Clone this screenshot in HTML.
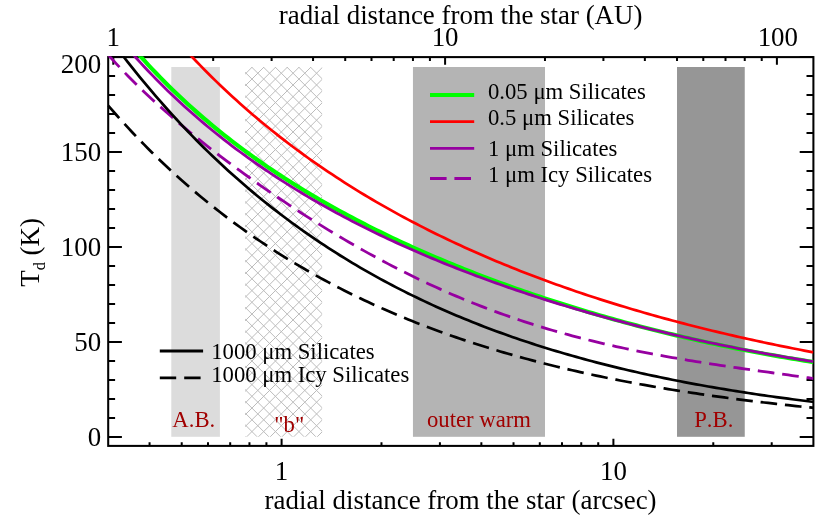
<!DOCTYPE html>
<html><head><meta charset="utf-8"><title>Dust temperature vs radial distance</title>
<style>html,body{margin:0;padding:0;background:#fff}body{width:830px;height:519px;overflow:hidden}svg{display:block;will-change:transform}text{font-family:"Liberation Serif",serif;fill:#000;font-kerning:none}</style>
</head><body>
<svg width="830" height="519" viewBox="0 0 830 519">
<rect width="830" height="519" fill="#fff"/>
<defs>
<clipPath id="pc"><rect x="107.4" y="56.300000000000004" width="706.00" height="389.60"/></clipPath>
<clipPath id="hc"><rect x="245.10" y="67.00" width="77.00" height="369.80"/></clipPath>
</defs>
<rect x="171.3" y="67.00" width="48.6" height="369.80" fill="#dcdcdc"/>
<rect x="412.95" y="67.00" width="132.04" height="369.80" fill="#b4b4b4"/>
<rect x="677.02" y="67.00" width="67.73" height="369.80" fill="#969696"/>
<g clip-path="url(#hc)"><path d="M210.25,62.00L-169.55,441.80M222.00,62.00L-157.80,441.80M233.75,62.00L-146.05,441.80M245.50,62.00L-134.30,441.80M257.25,62.00L-122.55,441.80M269.00,62.00L-110.80,441.80M280.75,62.00L-99.05,441.80M292.50,62.00L-87.30,441.80M304.25,62.00L-75.55,441.80M316.00,62.00L-63.80,441.80M327.75,62.00L-52.05,441.80M339.50,62.00L-40.30,441.80M351.25,62.00L-28.55,441.80M363.00,62.00L-16.80,441.80M374.75,62.00L-5.05,441.80M386.50,62.00L6.70,441.80M398.25,62.00L18.45,441.80M410.00,62.00L30.20,441.80M421.75,62.00L41.95,441.80M433.50,62.00L53.70,441.80M445.25,62.00L65.45,441.80M457.00,62.00L77.20,441.80M468.75,62.00L88.95,441.80M480.50,62.00L100.70,441.80M492.25,62.00L112.45,441.80M504.00,62.00L124.20,441.80M515.75,62.00L135.95,441.80M527.50,62.00L147.70,441.80M539.25,62.00L159.45,441.80M551.00,62.00L171.20,441.80M562.75,62.00L182.95,441.80M574.50,62.00L194.70,441.80M586.25,62.00L206.45,441.80M598.00,62.00L218.20,441.80M609.75,62.00L229.95,441.80M621.50,62.00L241.70,441.80M633.25,62.00L253.45,441.80M645.00,62.00L265.20,441.80M656.75,62.00L276.95,441.80M668.50,62.00L288.70,441.80M680.25,62.00L300.45,441.80M692.00,62.00L312.20,441.80M703.75,62.00L323.95,441.80M715.50,62.00L335.70,441.80M727.25,62.00L347.45,441.80M739.00,62.00L359.20,441.80M750.75,62.00L370.95,441.80M762.50,62.00L382.70,441.80M774.25,62.00L394.45,441.80M786.00,62.00L406.20,441.80M797.75,62.00L417.95,441.80M809.50,62.00L429.70,441.80M821.25,62.00L441.45,441.80M833.00,62.00L453.20,441.80M844.75,62.00L464.95,441.80M856.50,62.00L476.70,441.80M868.25,62.00L488.45,441.80M880.00,62.00L500.20,441.80M891.75,62.00L511.95,441.80M903.50,62.00L523.70,441.80M915.25,62.00L535.45,441.80M927.00,62.00L547.20,441.80M938.75,62.00L558.95,441.80M950.50,62.00L570.70,441.80M962.25,62.00L582.45,441.80M-282.15,62.00L97.65,441.80M-270.40,62.00L109.40,441.80M-258.65,62.00L121.15,441.80M-246.90,62.00L132.90,441.80M-235.15,62.00L144.65,441.80M-223.40,62.00L156.40,441.80M-211.65,62.00L168.15,441.80M-199.90,62.00L179.90,441.80M-188.15,62.00L191.65,441.80M-176.40,62.00L203.40,441.80M-164.65,62.00L215.15,441.80M-152.90,62.00L226.90,441.80M-141.15,62.00L238.65,441.80M-129.40,62.00L250.40,441.80M-117.65,62.00L262.15,441.80M-105.90,62.00L273.90,441.80M-94.15,62.00L285.65,441.80M-82.40,62.00L297.40,441.80M-70.65,62.00L309.15,441.80M-58.90,62.00L320.90,441.80M-47.15,62.00L332.65,441.80M-35.40,62.00L344.40,441.80M-23.65,62.00L356.15,441.80M-11.90,62.00L367.90,441.80M-0.15,62.00L379.65,441.80M11.60,62.00L391.40,441.80M23.35,62.00L403.15,441.80M35.10,62.00L414.90,441.80M46.85,62.00L426.65,441.80M58.60,62.00L438.40,441.80M70.35,62.00L450.15,441.80M82.10,62.00L461.90,441.80M93.85,62.00L473.65,441.80M105.60,62.00L485.40,441.80M117.35,62.00L497.15,441.80M129.10,62.00L508.90,441.80M140.85,62.00L520.65,441.80M152.60,62.00L532.40,441.80M164.35,62.00L544.15,441.80M176.10,62.00L555.90,441.80M187.85,62.00L567.65,441.80M199.60,62.00L579.40,441.80M211.35,62.00L591.15,441.80M223.10,62.00L602.90,441.80M234.85,62.00L614.65,441.80M246.60,62.00L626.40,441.80M258.35,62.00L638.15,441.80M270.10,62.00L649.90,441.80M281.85,62.00L661.65,441.80M293.60,62.00L673.40,441.80M305.35,62.00L685.15,441.80M317.10,62.00L696.90,441.80M328.85,62.00L708.65,441.80M340.60,62.00L720.40,441.80M352.35,62.00L732.15,441.80M364.10,62.00L743.90,441.80M375.85,62.00L755.65,441.80M387.60,62.00L767.40,441.80M399.35,62.00L779.15,441.80M411.10,62.00L790.90,441.80M422.85,62.00L802.65,441.80M434.60,62.00L814.40,441.80M446.35,62.00L826.15,441.80M458.10,62.00L837.90,441.80M469.85,62.00L849.65,441.80" stroke="#bcbcbc" stroke-width="1.0" fill="none"/></g>
<path d="M149.56,445.9v-3.6M181.72,445.9v-3.6M207.99,445.9v-3.6M230.20,445.9v-3.6M249.45,445.9v-3.6M266.42,445.9v-3.6M381.48,445.9v-3.6M439.91,445.9v-3.6M481.36,445.9v-3.6M513.52,445.9v-3.6M539.79,445.9v-3.6M562.00,445.9v-3.6M581.25,445.9v-3.6M598.22,445.9v-3.6M713.28,445.9v-3.6M771.71,445.9v-3.6M281.60,445.9v-7.2M613.40,445.9v-7.2M213.18,57.1v3.8M271.61,57.1v3.8M313.06,57.1v3.8M345.22,57.1v3.8M371.49,57.1v3.8M393.70,57.1v3.8M412.95,57.1v3.8M429.92,57.1v3.8M544.98,57.1v3.8M603.41,57.1v3.8M644.86,57.1v3.8M677.02,57.1v3.8M703.29,57.1v3.8M725.50,57.1v3.8M744.75,57.1v3.8M761.72,57.1v3.8M113.30,57.1v7.6M445.10,57.1v7.6M776.90,57.1v7.6M108.2,437.00h13.7M813.4,437.00h-13.7M108.2,418.00h6.9M813.4,418.00h-6.9M108.2,399.00h6.9M813.4,399.00h-6.9M108.2,380.00h6.9M813.4,380.00h-6.9M108.2,361.00h6.9M813.4,361.00h-6.9M108.2,342.00h13.7M813.4,342.00h-13.7M108.2,323.00h6.9M813.4,323.00h-6.9M108.2,304.00h6.9M813.4,304.00h-6.9M108.2,285.00h6.9M813.4,285.00h-6.9M108.2,266.00h6.9M813.4,266.00h-6.9M108.2,247.00h13.7M813.4,247.00h-13.7M108.2,228.00h6.9M813.4,228.00h-6.9M108.2,209.00h6.9M813.4,209.00h-6.9M108.2,190.00h6.9M813.4,190.00h-6.9M108.2,171.00h6.9M813.4,171.00h-6.9M108.2,152.00h13.7M813.4,152.00h-13.7M108.2,133.00h6.9M813.4,133.00h-6.9M108.2,114.00h6.9M813.4,114.00h-6.9M108.2,95.00h6.9M813.4,95.00h-6.9M108.2,76.00h6.9M813.4,76.00h-6.9M108.2,57.00h13.7M813.4,57.00h-13.7" stroke="#000" stroke-width="2" fill="none"/>
<rect x="108.2" y="57.1" width="705.1999999999999" height="388.79999999999995" fill="none" stroke="#000" stroke-width="2.05"/>
<g clip-path="url(#pc)" fill="none" stroke-linejoin="round">
<path d="M108.20,17.47 L112.20,22.62 L116.20,27.66 L120.20,32.61 L124.20,37.47 L128.20,42.23 L132.20,46.91 L136.20,51.51 L140.20,56.02 L144.20,60.45 L148.20,64.80 L152.20,69.08 L156.20,73.28 L160.20,77.41 L164.20,81.46 L168.20,85.45 L172.20,89.38 L176.20,93.24 L180.20,97.03 L184.20,100.76 L188.20,104.44 L192.20,108.05 L196.20,111.61 L200.20,115.11 L204.20,118.56 L208.20,121.96 L212.20,125.30 L216.20,128.59 L220.20,131.84 L224.20,135.04 L228.20,138.19 L232.20,141.29 L236.20,144.35 L240.20,147.37 L244.20,150.35 L248.20,153.28 L252.20,156.17 L256.20,159.03 L260.20,161.84 L264.20,164.62 L268.20,167.36 L272.20,170.07 L276.20,172.74 L280.20,175.37 L284.20,177.98 L288.20,180.55 L292.20,183.08 L296.20,185.59 L300.20,188.06 L304.20,190.51 L308.20,192.92 L312.20,195.31 L316.20,197.67 L320.20,200.00 L324.20,202.30 L328.20,204.58 L332.20,206.83 L336.20,209.06 L340.20,211.26 L344.20,213.43 L348.20,215.59 L352.20,217.71 L356.20,219.82 L360.20,221.90 L364.20,223.96 L368.20,226.00 L372.20,228.01 L376.20,230.01 L380.20,231.98 L384.20,233.93 L388.20,235.87 L392.20,237.78 L396.20,239.67 L400.20,241.55 L404.20,243.40 L408.20,245.24 L412.20,247.06 L416.20,248.86 L420.20,250.64 L424.20,252.41 L428.20,254.15 L432.20,255.88 L436.20,257.60 L440.20,259.29 L444.20,260.97 L448.20,262.64 L452.20,264.29 L456.20,265.92 L460.20,267.54 L464.20,269.14 L468.20,270.72 L472.20,272.30 L476.20,273.85 L480.20,275.39 L484.20,276.92 L488.20,278.43 L492.20,279.93 L496.20,281.42 L500.20,282.89 L504.20,284.34 L508.20,285.79 L512.20,287.22 L516.20,288.63 L520.20,290.03 L524.20,291.42 L528.20,292.80 L532.20,294.16 L536.20,295.51 L540.20,296.85 L544.20,298.18 L548.20,299.49 L552.20,300.79 L556.20,302.08 L560.20,303.35 L564.20,304.62 L568.20,305.87 L572.20,307.11 L576.20,308.33 L580.20,309.55 L584.20,310.75 L588.20,311.94 L592.20,313.13 L596.20,314.29 L600.20,315.45 L604.20,316.60 L608.20,317.73 L612.20,318.86 L616.20,319.97 L620.20,321.07 L624.20,322.16 L628.20,323.24 L632.20,324.31 L636.20,325.36 L640.20,326.41 L644.20,327.44 L648.20,328.47 L652.20,329.48 L656.20,330.49 L660.20,331.48 L664.20,332.46 L668.20,333.43 L672.20,334.39 L676.20,335.35 L680.20,336.29 L684.20,337.22 L688.20,338.14 L692.20,339.05 L696.20,339.95 L700.20,340.84 L704.20,341.72 L708.20,342.59 L712.20,343.45 L716.20,344.30 L720.20,345.14 L724.20,345.97 L728.20,346.79 L732.20,347.60 L736.20,348.40 L740.20,349.19 L744.20,349.98 L748.20,350.75 L752.20,351.51 L756.20,352.26 L760.20,353.01 L764.20,353.74 L768.20,354.47 L772.20,355.19 L776.20,355.89 L780.20,356.59 L784.20,357.28 L788.20,357.96 L792.20,358.63 L796.20,359.29 L800.20,359.94 L804.20,360.58 L808.20,361.22 L812.20,361.84 L813.40,362.03" stroke="#00ff00" stroke-width="4.2"/>
<path d="M108.20,-47.83 L112.20,-42.00 L116.20,-36.27 L120.20,-30.63 L124.20,-25.08 L128.20,-19.62 L132.20,-14.25 L136.20,-8.96 L140.20,-3.76 L144.20,1.36 L148.20,6.40 L152.20,11.36 L156.20,16.25 L160.20,21.06 L164.20,25.80 L168.20,30.46 L172.20,35.06 L176.20,39.58 L180.20,44.04 L184.20,48.44 L188.20,52.76 L192.20,57.03 L196.20,61.23 L200.20,65.37 L204.20,69.45 L208.20,73.47 L212.20,77.44 L216.20,81.35 L220.20,85.20 L224.20,89.00 L228.20,92.75 L232.20,96.44 L236.20,100.09 L240.20,103.68 L244.20,107.23 L248.20,110.72 L252.20,114.17 L256.20,117.58 L260.20,120.94 L264.20,124.25 L268.20,127.52 L272.20,130.75 L276.20,133.93 L280.20,137.07 L284.20,140.18 L288.20,143.24 L292.20,146.26 L296.20,149.25 L300.20,152.20 L304.20,155.11 L308.20,157.98 L312.20,160.82 L316.20,163.62 L320.20,166.39 L324.20,169.13 L328.20,171.83 L332.20,174.49 L336.20,177.13 L340.20,179.73 L344.20,182.31 L348.20,184.85 L352.20,187.36 L356.20,189.84 L360.20,192.30 L364.20,194.72 L368.20,197.12 L372.20,199.48 L376.20,201.82 L380.20,204.14 L384.20,206.42 L388.20,208.69 L392.20,210.92 L396.20,213.13 L400.20,215.32 L404.20,217.48 L408.20,219.61 L412.20,221.72 L416.20,223.81 L420.20,225.88 L424.20,227.92 L428.20,229.94 L432.20,231.94 L436.20,233.92 L440.20,235.87 L444.20,237.81 L448.20,239.72 L452.20,241.61 L456.20,243.49 L460.20,245.34 L464.20,247.17 L468.20,248.98 L472.20,250.78 L476.20,252.55 L480.20,254.31 L484.20,256.04 L488.20,257.76 L492.20,259.46 L496.20,261.15 L500.20,262.81 L504.20,264.46 L508.20,266.09 L512.20,267.71 L516.20,269.31 L520.20,270.89 L524.20,272.45 L528.20,274.00 L532.20,275.54 L536.20,277.05 L540.20,278.56 L544.20,280.04 L548.20,281.52 L552.20,282.97 L556.20,284.41 L560.20,285.84 L564.20,287.26 L568.20,288.65 L572.20,290.04 L576.20,291.41 L580.20,292.77 L584.20,294.11 L588.20,295.44 L592.20,296.76 L596.20,298.06 L600.20,299.35 L604.20,300.63 L608.20,301.89 L612.20,303.15 L616.20,304.38 L620.20,305.61 L624.20,306.83 L628.20,308.03 L632.20,309.22 L636.20,310.40 L640.20,311.57 L644.20,312.72 L648.20,313.87 L652.20,315.00 L656.20,316.12 L660.20,317.23 L664.20,318.33 L668.20,319.42 L672.20,320.49 L676.20,321.56 L680.20,322.62 L684.20,323.66 L688.20,324.70 L692.20,325.72 L696.20,326.73 L700.20,327.74 L704.20,328.73 L708.20,329.71 L712.20,330.69 L716.20,331.65 L720.20,332.61 L724.20,333.55 L728.20,334.49 L732.20,335.41 L736.20,336.33 L740.20,337.24 L744.20,338.13 L748.20,339.02 L752.20,339.90 L756.20,340.77 L760.20,341.63 L764.20,342.49 L768.20,343.33 L772.20,344.17 L776.20,344.99 L780.20,345.81 L784.20,346.62 L788.20,347.42 L792.20,348.22 L796.20,349.00 L800.20,349.78 L804.20,350.55 L808.20,351.31 L812.20,352.06 L813.40,352.28" stroke="#ff0000" stroke-width="2.7"/>
<path d="M108.20,24.90 L112.20,29.89 L116.20,34.78 L120.20,39.58 L124.20,44.30 L128.20,48.94 L132.20,53.49 L136.20,57.97 L140.20,62.37 L144.20,66.69 L148.20,70.94 L152.20,75.12 L156.20,79.23 L160.20,83.26 L164.20,87.24 L168.20,91.15 L172.20,94.99 L176.20,98.77 L180.20,102.50 L184.20,106.16 L188.20,109.77 L192.20,113.32 L196.20,116.81 L200.20,120.26 L204.20,123.65 L208.20,126.99 L212.20,130.28 L216.20,133.52 L220.20,136.71 L224.20,139.86 L228.20,142.96 L232.20,146.02 L236.20,149.03 L240.20,152.00 L244.20,154.93 L248.20,157.82 L252.20,160.67 L256.20,163.48 L260.20,166.26 L264.20,168.99 L268.20,171.69 L272.20,174.36 L276.20,176.98 L280.20,179.58 L284.20,182.14 L288.20,184.67 L292.20,187.17 L296.20,189.63 L300.20,192.07 L304.20,194.47 L308.20,196.84 L312.20,199.19 L316.20,201.51 L320.20,203.80 L324.20,206.06 L328.20,208.29 L332.20,210.50 L336.20,212.68 L340.20,214.84 L344.20,216.97 L348.20,219.08 L352.20,221.17 L356.20,223.23 L360.20,225.27 L364.20,227.28 L368.20,229.27 L372.20,231.24 L376.20,233.19 L380.20,235.12 L384.20,237.03 L388.20,238.91 L392.20,240.78 L396.20,242.63 L400.20,244.45 L404.20,246.26 L408.20,248.05 L412.20,249.82 L416.20,251.57 L420.20,253.31 L424.20,255.02 L428.20,256.72 L432.20,258.40 L436.20,260.06 L440.20,261.71 L444.20,263.34 L448.20,264.96 L452.20,266.55 L456.20,268.14 L460.20,269.70 L464.20,271.25 L468.20,272.79 L472.20,274.31 L476.20,275.82 L480.20,277.31 L484.20,278.79 L488.20,280.25 L492.20,281.70 L496.20,283.13 L500.20,284.55 L504.20,285.96 L508.20,287.35 L512.20,288.73 L516.20,290.10 L520.20,291.45 L524.20,292.79 L528.20,294.12 L532.20,295.43 L536.20,296.74 L540.20,298.03 L544.20,299.31 L548.20,300.57 L552.20,301.82 L556.20,303.07 L560.20,304.30 L564.20,305.51 L568.20,306.72 L572.20,307.92 L576.20,309.10 L580.20,310.27 L584.20,311.43 L588.20,312.58 L592.20,313.72 L596.20,314.85 L600.20,315.97 L604.20,317.07 L608.20,318.17 L612.20,319.25 L616.20,320.33 L620.20,321.39 L624.20,322.45 L628.20,323.49 L632.20,324.52 L636.20,325.55 L640.20,326.56 L644.20,327.56 L648.20,328.56 L652.20,329.54 L656.20,330.51 L660.20,331.48 L664.20,332.43 L668.20,333.38 L672.20,334.31 L676.20,335.24 L680.20,336.16 L684.20,337.06 L688.20,337.96 L692.20,338.85 L696.20,339.73 L700.20,340.60 L704.20,341.46 L708.20,342.31 L712.20,343.16 L716.20,343.99 L720.20,344.82 L724.20,345.63 L728.20,346.44 L732.20,347.24 L736.20,348.03 L740.20,348.81 L744.20,349.59 L748.20,350.35 L752.20,351.11 L756.20,351.86 L760.20,352.60 L764.20,353.33 L768.20,354.05 L772.20,354.77 L776.20,355.48 L780.20,356.18 L784.20,356.87 L788.20,357.55 L792.20,358.23 L796.20,358.89 L800.20,359.55 L804.20,360.20 L808.20,360.85 L812.20,361.48 L813.40,361.67" stroke="#9600a0" stroke-width="2.8"/>
<path d="M108.20,54.86 L112.20,59.29 L116.20,63.64 L120.20,67.91 L124.20,72.09 L128.20,76.19 L132.20,80.23 L136.20,84.19 L140.20,88.09 L144.20,91.92 L148.20,95.70 L152.20,99.42 L156.20,103.08 L160.20,106.69 L164.20,110.26 L168.20,113.78 L172.20,117.25 L176.20,120.68 L180.20,124.07 L184.20,127.42 L188.20,130.73 L192.20,134.01 L196.20,137.25 L200.20,140.46 L204.20,143.64 L208.20,146.79 L212.20,149.90 L216.20,152.99 L220.20,156.05 L224.20,159.09 L228.20,162.09 L232.20,165.07 L236.20,168.03 L240.20,170.96 L244.20,173.87 L248.20,176.75 L252.20,179.61 L256.20,182.45 L260.20,185.27 L264.20,188.06 L268.20,190.83 L272.20,193.58 L276.20,196.31 L280.20,199.02 L284.20,201.70 L288.20,204.36 L292.20,207.01 L296.20,209.63 L300.20,212.23 L304.20,214.81 L308.20,217.36 L312.20,219.90 L316.20,222.41 L320.20,224.90 L324.20,227.37 L328.20,229.82 L332.20,232.25 L336.20,234.66 L340.20,237.04 L344.20,239.40 L348.20,241.74 L352.20,244.06 L356.20,246.35 L360.20,248.62 L364.20,250.87 L368.20,253.10 L372.20,255.30 L376.20,257.48 L380.20,259.63 L384.20,261.77 L388.20,263.88 L392.20,265.96 L396.20,268.03 L400.20,270.07 L404.20,272.08 L408.20,274.07 L412.20,276.04 L416.20,277.98 L420.20,279.90 L424.20,281.80 L428.20,283.67 L432.20,285.52 L436.20,287.35 L440.20,289.15 L444.20,290.92 L448.20,292.68 L452.20,294.41 L456.20,296.11 L460.20,297.79 L464.20,299.45 L468.20,301.09 L472.20,302.70 L476.20,304.29 L480.20,305.85 L484.20,307.39 L488.20,308.91 L492.20,310.41 L496.20,311.88 L500.20,313.33 L504.20,314.76 L508.20,316.16 L512.20,317.55 L516.20,318.91 L520.20,320.25 L524.20,321.57 L528.20,322.87 L532.20,324.14 L536.20,325.40 L540.20,326.63 L544.20,327.85 L548.20,329.04 L552.20,330.22 L556.20,331.37 L560.20,332.51 L564.20,333.62 L568.20,334.72 L572.20,335.80 L576.20,336.86 L580.20,337.90 L584.20,338.93 L588.20,339.93 L592.20,340.92 L596.20,341.89 L600.20,342.85 L604.20,343.79 L608.20,344.71 L612.20,345.62 L616.20,346.51 L620.20,347.38 L624.20,348.25 L628.20,349.09 L632.20,349.92 L636.20,350.74 L640.20,351.55 L644.20,352.34 L648.20,353.12 L652.20,353.88 L656.20,354.64 L660.20,355.38 L664.20,356.11 L668.20,356.83 L672.20,357.54 L676.20,358.24 L680.20,358.92 L684.20,359.60 L688.20,360.27 L692.20,360.93 L696.20,361.58 L700.20,362.22 L704.20,362.85 L708.20,363.48 L712.20,364.10 L716.20,364.71 L720.20,365.31 L724.20,365.91 L728.20,366.51 L732.20,367.09 L736.20,367.68 L740.20,368.25 L744.20,368.83 L748.20,369.40 L752.20,369.97 L756.20,370.53 L760.20,371.09 L764.20,371.65 L768.20,372.21 L772.20,372.76 L776.20,373.32 L780.20,373.87 L784.20,374.42 L788.20,374.98 L792.20,375.53 L796.20,376.08 L800.20,376.64 L804.20,377.20 L808.20,377.76 L812.20,378.32 L813.40,378.49" stroke="#9600a0" stroke-width="2.8" stroke-dasharray="16.7 7.9"/>
<path d="M108.20,36.23 L112.20,41.65 L116.20,46.99 L120.20,52.27 L124.20,57.47 L128.20,62.60 L132.20,67.66 L136.20,72.65 L140.20,77.57 L144.20,82.43 L148.20,87.22 L152.20,91.95 L156.20,96.61 L160.20,101.22 L164.20,105.76 L168.20,110.24 L172.20,114.65 L176.20,119.01 L180.20,123.31 L184.20,127.56 L188.20,131.74 L192.20,135.87 L196.20,139.95 L200.20,143.97 L204.20,147.94 L208.20,151.85 L212.20,155.71 L216.20,159.52 L220.20,163.28 L224.20,166.99 L228.20,170.65 L232.20,174.26 L236.20,177.82 L240.20,181.34 L244.20,184.80 L248.20,188.23 L252.20,191.60 L256.20,194.93 L260.20,198.22 L264.20,201.46 L268.20,204.66 L272.20,207.82 L276.20,210.93 L280.20,214.01 L284.20,217.04 L288.20,220.03 L292.20,222.98 L296.20,225.90 L300.20,228.77 L304.20,231.61 L308.20,234.40 L312.20,237.16 L316.20,239.89 L320.20,242.58 L324.20,245.23 L328.20,247.84 L332.20,250.43 L336.20,252.97 L340.20,255.49 L344.20,257.96 L348.20,260.41 L352.20,262.82 L356.20,265.21 L360.20,267.56 L364.20,269.87 L368.20,272.16 L372.20,274.42 L376.20,276.64 L380.20,278.84 L384.20,281.01 L388.20,283.15 L392.20,285.26 L396.20,287.34 L400.20,289.39 L404.20,291.42 L408.20,293.42 L412.20,295.39 L416.20,297.33 L420.20,299.25 L424.20,301.15 L428.20,303.01 L432.20,304.86 L436.20,306.67 L440.20,308.47 L444.20,310.24 L448.20,311.98 L452.20,313.70 L456.20,315.40 L460.20,317.08 L464.20,318.73 L468.20,320.36 L472.20,321.97 L476.20,323.56 L480.20,325.12 L484.20,326.67 L488.20,328.19 L492.20,329.69 L496.20,331.18 L500.20,332.64 L504.20,334.08 L508.20,335.50 L512.20,336.91 L516.20,338.29 L520.20,339.66 L524.20,341.00 L528.20,342.33 L532.20,343.64 L536.20,344.93 L540.20,346.21 L544.20,347.46 L548.20,348.70 L552.20,349.93 L556.20,351.13 L560.20,352.32 L564.20,353.50 L568.20,354.65 L572.20,355.79 L576.20,356.92 L580.20,358.03 L584.20,359.12 L588.20,360.20 L592.20,361.27 L596.20,362.32 L600.20,363.35 L604.20,364.38 L608.20,365.38 L612.20,366.38 L616.20,367.35 L620.20,368.32 L624.20,369.27 L628.20,370.21 L632.20,371.14 L636.20,372.05 L640.20,372.95 L644.20,373.84 L648.20,374.71 L652.20,375.58 L656.20,376.43 L660.20,377.27 L664.20,378.10 L668.20,378.91 L672.20,379.72 L676.20,380.51 L680.20,381.29 L684.20,382.06 L688.20,382.82 L692.20,383.57 L696.20,384.31 L700.20,385.04 L704.20,385.76 L708.20,386.47 L712.20,387.17 L716.20,387.85 L720.20,388.53 L724.20,389.20 L728.20,389.86 L732.20,390.51 L736.20,391.15 L740.20,391.79 L744.20,392.41 L748.20,393.02 L752.20,393.63 L756.20,394.23 L760.20,394.81 L764.20,395.39 L768.20,395.97 L772.20,396.53 L776.20,397.08 L780.20,397.63 L784.20,398.17 L788.20,398.70 L792.20,399.23 L796.20,399.75 L800.20,400.25 L804.20,400.76 L808.20,401.25 L812.20,401.74 L813.40,401.88" stroke="#000" stroke-width="2.7"/>
<path d="M108.20,105.64 L112.20,110.23 L116.20,114.75 L120.20,119.21 L124.20,123.61 L128.20,127.94 L132.20,132.21 L136.20,136.42 L140.20,140.57 L144.20,144.66 L148.20,148.70 L152.20,152.67 L156.20,156.59 L160.20,160.45 L164.20,164.26 L168.20,168.02 L172.20,171.72 L176.20,175.37 L180.20,178.97 L184.20,182.52 L188.20,186.01 L192.20,189.46 L196.20,192.86 L200.20,196.22 L204.20,199.52 L208.20,202.78 L212.20,206.00 L216.20,209.16 L220.20,212.29 L224.20,215.37 L228.20,218.41 L232.20,221.41 L236.20,224.36 L240.20,227.28 L244.20,230.15 L248.20,232.98 L252.20,235.78 L256.20,238.53 L260.20,241.25 L264.20,243.93 L268.20,246.58 L272.20,249.18 L276.20,251.76 L280.20,254.29 L284.20,256.79 L288.20,259.26 L292.20,261.69 L296.20,264.09 L300.20,266.46 L304.20,268.79 L308.20,271.09 L312.20,273.36 L316.20,275.60 L320.20,277.81 L324.20,279.99 L328.20,282.14 L332.20,284.26 L336.20,286.35 L340.20,288.41 L344.20,290.44 L348.20,292.45 L352.20,294.42 L356.20,296.38 L360.20,298.30 L364.20,300.20 L368.20,302.07 L372.20,303.92 L376.20,305.74 L380.20,307.54 L384.20,309.31 L388.20,311.06 L392.20,312.78 L396.20,314.48 L400.20,316.16 L404.20,317.82 L408.20,319.45 L412.20,321.06 L416.20,322.65 L420.20,324.21 L424.20,325.76 L428.20,327.28 L432.20,328.78 L436.20,330.27 L440.20,331.73 L444.20,333.17 L448.20,334.59 L452.20,336.00 L456.20,337.38 L460.20,338.75 L464.20,340.10 L468.20,341.42 L472.20,342.73 L476.20,344.03 L480.20,345.30 L484.20,346.56 L488.20,347.80 L492.20,349.02 L496.20,350.23 L500.20,351.42 L504.20,352.59 L508.20,353.75 L512.20,354.89 L516.20,356.02 L520.20,357.13 L524.20,358.23 L528.20,359.31 L532.20,360.37 L536.20,361.42 L540.20,362.46 L544.20,363.48 L548.20,364.49 L552.20,365.49 L556.20,366.47 L560.20,367.43 L564.20,368.39 L568.20,369.33 L572.20,370.26 L576.20,371.17 L580.20,372.08 L584.20,372.97 L588.20,373.84 L592.20,374.71 L596.20,375.57 L600.20,376.41 L604.20,377.24 L608.20,378.06 L612.20,378.86 L616.20,379.66 L620.20,380.45 L624.20,381.22 L628.20,381.99 L632.20,382.74 L636.20,383.48 L640.20,384.22 L644.20,384.94 L648.20,385.65 L652.20,386.35 L656.20,387.05 L660.20,387.73 L664.20,388.40 L668.20,389.07 L672.20,389.72 L676.20,390.37 L680.20,391.00 L684.20,391.63 L688.20,392.25 L692.20,392.86 L696.20,393.46 L700.20,394.06 L704.20,394.64 L708.20,395.22 L712.20,395.79 L716.20,396.35 L720.20,396.90 L724.20,397.45 L728.20,397.99 L732.20,398.52 L736.20,399.04 L740.20,399.55 L744.20,400.06 L748.20,400.56 L752.20,401.06 L756.20,401.54 L760.20,402.02 L764.20,402.50 L768.20,402.96 L772.20,403.42 L776.20,403.88 L780.20,404.32 L784.20,404.76 L788.20,405.20 L792.20,405.63 L796.20,406.05 L800.20,406.47 L804.20,406.88 L808.20,407.28 L812.20,407.68 L813.40,407.80" stroke="#000" stroke-width="2.7" stroke-dasharray="16.65 7.85"/>
</g>
<text x="113.30" y="46.1" font-size="26.9" text-anchor="middle">1</text>
<text x="445.10" y="46.1" font-size="26.9" text-anchor="middle">10</text>
<text x="777.80" y="46.1" font-size="26.9" text-anchor="middle">100</text>
<text x="281.60" y="479.6" font-size="26.9" text-anchor="middle">1</text>
<text x="613.40" y="479.6" font-size="26.9" text-anchor="middle">10</text>
<text x="101.2" y="446.10" font-size="26.9" text-anchor="end">0</text>
<text x="101.2" y="351.10" font-size="26.9" text-anchor="end">50</text>
<text x="101.2" y="256.10" font-size="26.9" text-anchor="end">100</text>
<text x="101.2" y="161.10" font-size="26.9" text-anchor="end">150</text>
<text x="101.2" y="73.30" font-size="26.9" text-anchor="end">200</text>
<text x="460.6" y="23.6" font-size="26.9" text-anchor="middle">radial distance from the star (AU)</text>
<text x="460.6" y="508.9" font-size="26.9" text-anchor="middle">radial distance from the star (arcsec)</text>
<text transform="translate(39.2,286.8) rotate(-90)" font-size="26.9">T<tspan font-size="16.5" dy="6">d</tspan><tspan dy="-6"> (K)</tspan></text>
<path d="M430,95.0H474.2" stroke="#00ff00" stroke-width="4.2" fill="none"/>
<text x="488.0" y="98.9" font-size="22.7">0.05 μm Silicates</text>
<path d="M430,121.6H474.2" stroke="#ff0000" stroke-width="2.7" fill="none"/>
<text x="488.0" y="125.2" font-size="22.7">0.5 μm Silicates</text>
<path d="M430,148.4H474.2" stroke="#9600a0" stroke-width="2.8" fill="none"/>
<text x="488.0" y="155.6" font-size="22.7">1 μm Silicates</text>
<path d="M430,178.5H474.2" stroke="#9600a0" stroke-width="2.8" stroke-dasharray="16.6 7.8" fill="none"/>
<text x="488.0" y="182.2" font-size="22.7">1 μm Icy Silicates</text>
<path d="M159.8,351.0H203.1" stroke="#000" stroke-width="2.8" fill="none"/>
<text x="211.2" y="358.5" font-size="22.7">1000 μm Silicates</text>
<path d="M159.8,377.9H203.1" stroke="#000" stroke-width="2.8" stroke-dasharray="16.4 8" fill="none"/>
<text x="211.2" y="382.1" font-size="22.7">1000 μm Icy Silicates</text>
<text x="193.8" y="427.1" font-size="22.7" text-anchor="middle" style="fill:#a00000">A.B.</text>
<text x="289.3" y="431.6" font-size="22.7" text-anchor="middle" style="fill:#a00000">"b"</text>
<text x="479" y="427.1" font-size="22.7" text-anchor="middle" style="fill:#a00000">outer warm</text>
<text x="713.8" y="427.1" font-size="22.7" text-anchor="middle" style="fill:#a00000">P.B.</text>
</svg></body></html>
